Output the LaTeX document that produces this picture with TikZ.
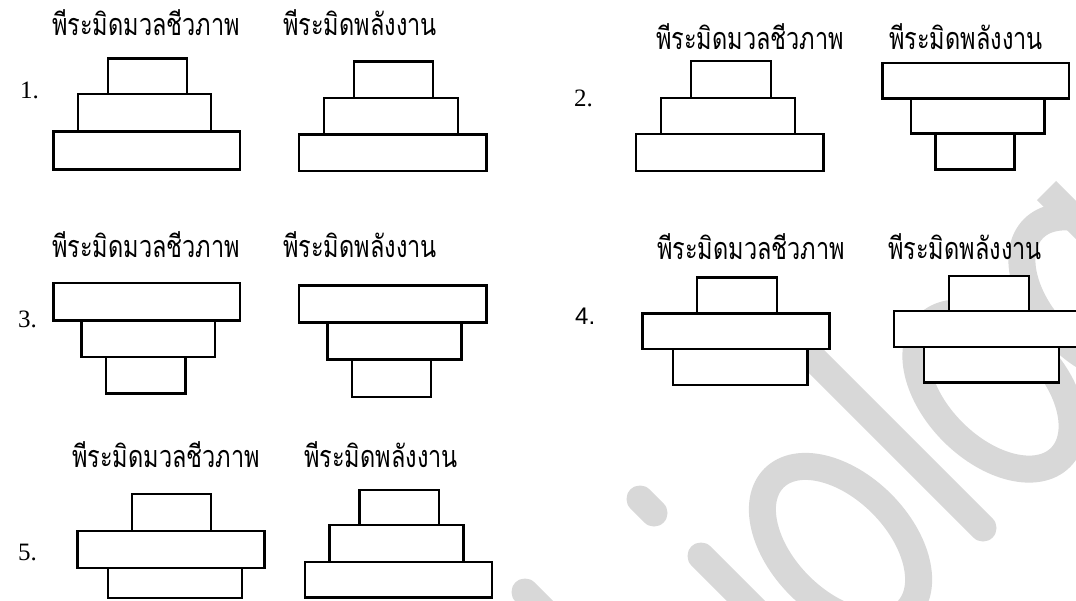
\documentclass[tikz,border=0pt]{standalone}
\usepackage{fontspec}
\setmainfont{Liberation Serif}
\IfFontExistsTF{Norasi}{\newfontfamily\thai[Script=Thai]{Norasi}}{\newfontfamily\thai[Script=Thai]{Loma}}
\newfontfamily\numsans{Liberation Sans}
\definecolor{wmgray}{RGB}{216,216,216}
\newcommand\ttltext[1]{\scalebox{1}[1.3]{#1}}
\tikzset{
  blk/.style={draw=black, fill=white, line width=2.4pt},
  ttl/.style={anchor=base west, inner sep=0pt, font=\thai\fontsize{23.5}{28}\selectfont},
  num/.style={anchor=base west, inner sep=0pt, font=\fontsize{25}{30}\selectfont},
  wm/.style={draw=wmgray, line width=27pt},
  wmo/.style={draw=wmgray, line width=27pt},
}
\begin{document}
\begin{tikzpicture}[x=1pt,y=-1pt]
\fill[white] (0,0) rectangle (1076,600);
\useasboundingbox (0,0) rectangle (1076,600);
% watermark
\begin{scope}
\clip (0,0) rectangle (1076,600);
\draw[wm, line cap=round] (525,592) -- (565,632);
\draw[wm, line cap=round] (640,499) -- (654,513);
\draw[wm, line cap=round] (701,556) -- (801,656);
\draw[wmo, rotate around={-45:(840.5,544.5)}] (840.5,544.5) ellipse [x radius=94, y radius=58];
\draw[wm, line cap=round] (790,335) -- (983,528);
\draw[wmo, rotate around={-45:(994,391)}] (994,391) ellipse [x radius=94, y radius=58];
\draw[wmo, rotate around={-45:(1100,295)}] (1100,295) ellipse [x radius=94, y radius=58];
\draw[wm] (1046.5,190.5) -- (1160,304);
\end{scope}
% panel 1
\node[ttl] (t1a) at (52,35) {\ttltext{พีระมิดมวลชีวภาพ}};
\node[ttl] (t1b) at (283,35) {\ttltext{พีระมิดพลังงาน}};
\node[num] (n1) at (20,98) {1.};
\draw[blk] (108,58.5) rectangle (187,94);
\draw[blk] (78,94) rectangle (211,131.6);
\draw[blk] (53.4,131.6) rectangle (240,169.4);
\draw[blk] (353.7,61.3) rectangle (433.2,97.8);
\draw[blk] (323.7,97.8) rectangle (458,134.3);
\draw[blk] (298.9,134.3) rectangle (486.3,171.2);
% panel 2
\node[ttl] (t2a) at (656,49) {\ttltext{พีระมิดมวลชีวภาพ}};
\node[ttl] (t2b) at (889,49) {\ttltext{พีระมิดพลังงาน}};
\node[num] (n2) at (574,106) {2.};
\draw[blk] (690.8,60.9) rectangle (770.8,98.1);
\draw[blk] (660.7,98.1) rectangle (794.7,134);
\draw[blk] (636.1,134) rectangle (823.4,170.9);
\draw[blk] (882.6,63) rectangle (1069,98.3);
\draw[blk] (910.9,98.3) rectangle (1044.3,133.3);
\draw[blk] (935.6,133.3) rectangle (1014.3,169.3);
% panel 3
\node[ttl] (t3a) at (52,257) {\ttltext{พีระมิดมวลชีวภาพ}};
\node[ttl] (t3b) at (283,257) {\ttltext{พีระมิดพลังงาน}};
\node[num] (n3) at (18,327) {3.};
\draw[blk] (53.4,282.7) rectangle (240,320.5);
\draw[blk] (81.3,320.5) rectangle (215.2,357);
\draw[blk] (105.7,357) rectangle (185.3,393.5);
\draw[blk] (298.9,285.4) rectangle (486.3,322.3);
\draw[blk] (327.5,322.3) rectangle (461.5,359.5);
\draw[blk] (352,359.5) rectangle (431.2,397);
% panel 4
\node[ttl] (t4a) at (657,259) {\ttltext{พีระมิดมวลชีวภาพ}};
\node[ttl] (t4b) at (888,259) {\ttltext{พีระมิดพลังงาน}};
\node[num, font=\numsans\fontsize{24}{28}\selectfont] (n4) at (575,324) {4.};
\draw[blk] (696.7,277.3) rectangle (777,313.3);
\draw[blk] (642.3,313.3) rectangle (829.3,349);
\draw[blk] (672.7,349) rectangle (807.3,384.7);
\draw[blk] (949,275.7) rectangle (1028.7,311);
\draw[blk] (894,311) rectangle (1081,346.7);
\draw[blk] (924,346.7) rectangle (1059,382.3);
% panel 5
\node[ttl] (t5a) at (72,467) {\ttltext{พีระมิดมวลชีวภาพ}};
\node[ttl] (t5b) at (304,467) {\ttltext{พีระมิดพลังงาน}};
\node[num] (n5) at (18,560) {5.};
\draw[blk] (131.9,493.7) rectangle (211.1,530.9);
\draw[blk] (77.5,530.9) rectangle (264.5,568.1);
\draw[blk] (107.8,568.1) rectangle (241.8,598);
\draw[blk] (359.3,490) rectangle (439,525);
\draw[blk] (329.3,525) rectangle (463.3,561.7);
\draw[blk] (304.7,561.7) rectangle (492,597.3);
\end{tikzpicture}
\end{document}
